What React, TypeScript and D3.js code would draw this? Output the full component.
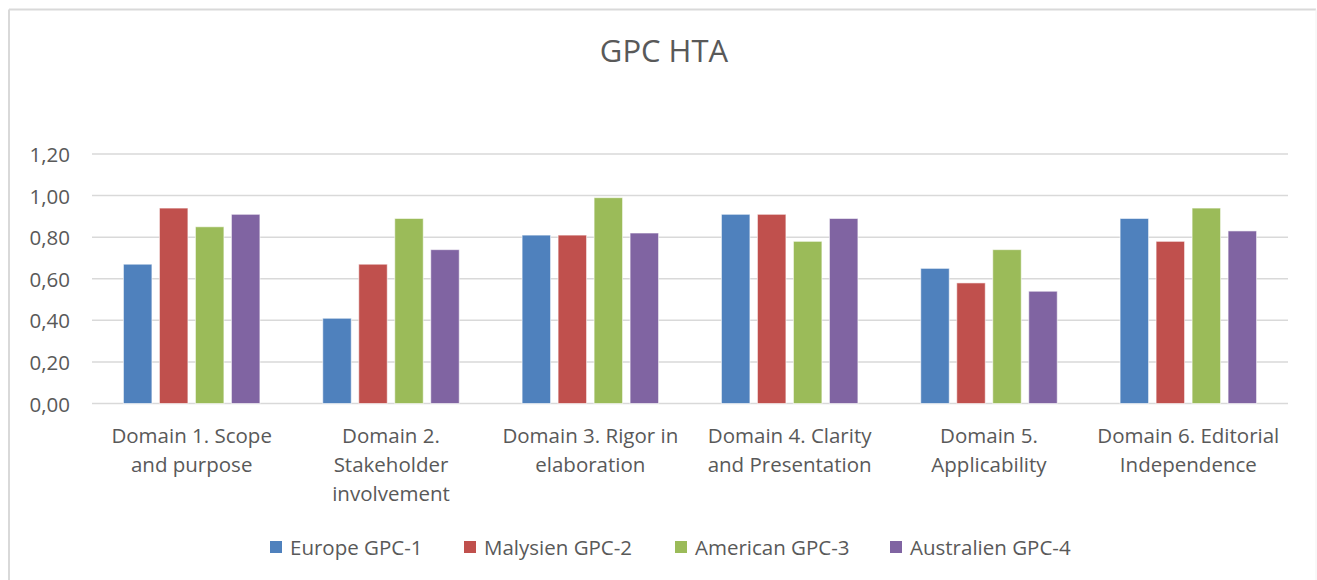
import React from "react";
import * as d3 from "d3";

const categories = [
  "Domain 1. Scope and purpose",
  "Domain 2. Stakeholder involvement",
  "Domain 3. Rigor in elaboration",
  "Domain 4. Clarity and Presentation",
  "Domain 5. Applicability",
  "Domain 6. Editorial Independence",
];
const categoryLines = [
  ["Domain 1. Scope", "and purpose"],
  ["Domain 2.", "Stakeholder", "involvement"],
  ["Domain 3. Rigor in", "elaboration"],
  ["Domain 4. Clarity", "and Presentation"],
  ["Domain 5.", "Applicability"],
  ["Domain 6. Editorial", "Independence"],
];
const seriesNames = ["Europe GPC-1", "Malysien GPC-2", "American GPC-3", "Australien GPC-4"];
const seriesColors = ["#4F81BD", "#C0504D", "#9BBB59", "#8064A2"];
const europe = [0.67, 0.41, 0.81, 0.91, 0.65, 0.89];
const malaysian = [0.94, 0.67, 0.81, 0.91, 0.58, 0.78];
const american = [0.85, 0.89, 0.99, 0.78, 0.74, 0.94];
const australian = [0.91, 0.74, 0.82, 0.89, 0.54, 0.83];
const seriesValues = [europe, malaysian, american, australian];
const yTicks = [0, 0.2, 0.4, 0.6, 0.8, 1.0, 1.2];
const legendX = [270, 464, 675, 890];

const FONT = "'Open Sans', sans-serif";
const TEXT = "#595959";
const GRID = "#d9d9d9";

export default function App() {
  const W = 1317, H = 580;
  const x0 = d3.scaleBand<string>().domain(categories).range([92, 1288]).paddingInner(0).paddingOuter(0);
  const groupW = 136.5;
  const x1 = d3.scaleBand<string>().domain(seriesNames).range([0, groupW]).paddingInner(0.208).paddingOuter(0);
  const y = d3.scaleLinear().domain([0, 1.2]).range([403.5, 154]);
  const fmt = (v: number) => d3.format(".2f")(v).replace(".", ",");

  return (
    <svg width={W} height={H} style={{ position: "absolute", left: 0, top: 0, background: "#fff" }}>
      <rect x={0} y={0} width={W} height={H} fill="#fff" />
      <line x1={9} y1={9.5} x2={1316} y2={9.5} stroke={GRID} strokeWidth={2} />
      <line x1={9} y1={9.5} x2={9} y2={H} stroke={GRID} strokeWidth={2} />
      <line x1={1316} y1={9.5} x2={1316} y2={H} stroke="#f2f2f2" strokeWidth={1} />
      <text x={664} y={54} textAnchor="middle" dominantBaseline="middle" fontFamily={FONT} fontSize={31} fill={TEXT}>
        GPC HTA
      </text>
      {yTicks.map((t) => (
        <g key={t}>
          <line x1={92} x2={1288} y1={y(t)} y2={y(t)} stroke={GRID} strokeWidth={1.5} />
          <text x={70} y={y(t)} textAnchor="end" dominantBaseline="central" fontFamily={FONT} fontSize={20.5} fill={TEXT}>
            {fmt(t)}
          </text>
        </g>
      ))}
      {categories.map((c, ci) => {
        const gx = (x0(c) as number) + (x0.bandwidth() - groupW) / 2;
        return (
          <g key={c}>
            {seriesNames.map((s, si) => {
              const v = seriesValues[si][ci];
              return (
                <rect
                  key={s}
                  x={gx + (x1(s) as number)}
                  y={y(v)}
                  width={x1.bandwidth()}
                  height={y(0) - y(v)}
                  fill={seriesColors[si]}
                  stroke="#ffffff"
                  strokeOpacity={0.6}
                  strokeWidth={1}
                />
              );
            })}
            {categoryLines[ci].map((ln, li) => (
              <text
                key={li}
                x={(x0(c) as number) + x0.bandwidth() / 2}
                y={435 + li * 29}
                textAnchor="middle"
                dominantBaseline="central"
                fontFamily={FONT}
                fontSize={20.5}
                fill={TEXT}
              >
                {ln}
              </text>
            ))}
          </g>
        );
      })}
      {seriesNames.map((s, si) => (
        <g key={s}>
          <rect x={legendX[si]} y={541} width={12} height={12} fill={seriesColors[si]} />
          <text x={legendX[si] + 20} y={547} dominantBaseline="central" fontFamily={FONT} fontSize={20.5} fill={TEXT}>
            {s}
          </text>
        </g>
      ))}
    </svg>
  );
}
